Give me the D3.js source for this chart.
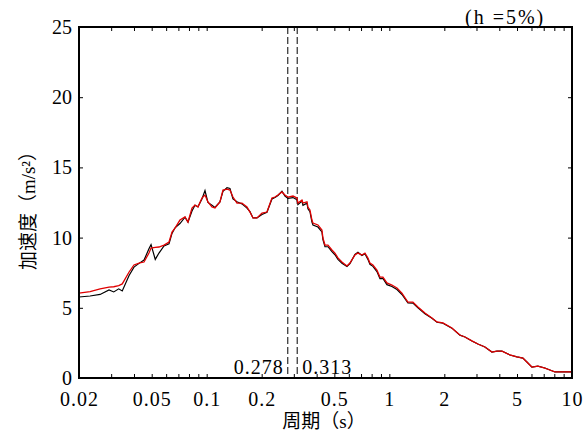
<!DOCTYPE html>
<html>
<head>
<meta charset="utf-8">
<script src="https://cdn.jsdelivr.net/npm/d3@7"></script>
<style>
  body { margin: 0; background: #fff; }
  text { font-family: "Liberation Serif", "Noto Sans CJK SC", serif; fill: #000; }
</style>
</head>
<body>
<div id="chart"></div>
<script>
// periods (s)
const periods = [0.0200, 0.0230, 0.0261, 0.0292, 0.0310, 0.0330, 0.0345, 0.0376, 0.0400, 0.0430,
  0.0454, 0.0483, 0.0496, 0.0523, 0.0548, 0.0584, 0.0622, 0.0646, 0.0671, 0.0714,
  0.0761, 0.0790, 0.0831, 0.0863, 0.0896, 0.0942, 0.0979, 0.1016, 0.1069, 0.1110,
  0.1182, 0.1228, 0.1292, 0.1341, 0.1393, 0.1465, 0.1560, 0.1662, 0.1726, 0.1793,
  0.1885, 0.2008, 0.2138, 0.2277, 0.2365, 0.2456, 0.2583, 0.2682, 0.2786, 0.2968,
  0.3121, 0.3160, 0.3324, 0.3366, 0.3540, 0.3584, 0.3676, 0.3770, 0.3818, 0.4066,
  0.4276, 0.4330, 0.4442, 0.4614, 0.4850, 0.5038, 0.5232, 0.5502, 0.5862, 0.6086,
  0.6482, 0.6732, 0.7080, 0.7352, 0.7634, 0.7830, 0.8132, 0.8552, 0.8882, 0.9224,
  0.9702, 1.033, 1.101, 1.172, 1.264, 1.346, 1.434, 1.566, 1.711, 1.822,
  1.965, 2.200, 2.434, 2.594, 2.832, 3.054, 3.336, 3.644, 3.882, 4.134,
  4.572, 4.994, 5.386, 5.664, 6.034, 6.506, 7.106, 7.568, 8.062, 8.586, 10.0];

// red spectrum (m/s2)
const accelRed = [6.05, 6.15, 6.34, 6.48, 6.50, 6.58, 6.70, 7.55, 8.05, 8.20,
  8.26, 8.90, 9.26, 9.30, 9.33, 9.47, 9.69, 10.40, 10.68, 11.25,
  11.47, 11.11, 12.11, 12.32, 12.18, 12.82, 13.03, 12.54, 12.18, 12.11,
  12.54, 13.39, 13.45, 13.39, 12.89, 12.46, 12.46, 12.18, 11.82, 11.40,
  11.40, 11.75, 11.82, 12.82, 12.89, 13.03, 13.25, 13.03, 12.89, 12.96,
  12.82, 12.46, 12.68, 12.46, 12.54, 12.18, 11.97, 11.25, 11.04, 10.90,
  10.54, 9.97, 9.47, 9.47, 9.12, 8.90, 8.55, 8.26, 7.98, 8.19,
  8.76, 8.90, 8.76, 8.90, 8.55, 8.19, 8.05, 7.69, 7.19, 7.19,
  6.77, 6.62, 6.41, 6.05, 5.41, 5.41, 5.06, 4.63, 4.27, 3.99,
  3.92, 3.56, 3.06, 2.92, 2.64, 2.42, 2.21, 1.85, 1.92, 1.92,
  1.64, 1.50, 1.42, 1.14, 0.78, 0.85, 0.71, 0.57, 0.43, 0.43, 0.43];

// black spectrum (m/s2)
const accelBlack = [5.77, 5.84, 5.95, 6.27, 6.13, 6.35, 6.20, 7.30, 7.90, 8.20,
  8.40, 9.20, 9.50, 8.45, 8.90, 9.40, 9.55, 10.30, 10.70, 11.00,
  11.45, 11.10, 11.90, 12.30, 12.20, 12.75, 13.35, 12.50, 12.30, 12.15,
  12.54, 13.30, 13.55, 13.50, 12.75, 12.55, 12.40, 12.10, 11.85, 11.40,
  11.40, 11.65, 11.80, 12.75, 12.85, 13.00, 13.30, 12.95, 12.80, 12.85,
  12.70, 12.35, 12.60, 12.30, 12.45, 12.05, 11.85, 11.10, 10.90, 10.75,
  10.40, 9.85, 9.35, 9.35, 9.00, 8.78, 8.45, 8.18, 7.95, 8.15,
  8.80, 8.95, 8.72, 8.85, 8.45, 8.10, 7.95, 7.58, 7.08, 7.10,
  6.65, 6.52, 6.30, 5.95, 5.35, 5.33, 5.00, 4.58, 4.25, 3.97,
  3.90, 3.55, 3.05, 2.92, 2.64, 2.42, 2.21, 1.85, 1.92, 1.92,
  1.64, 1.50, 1.42, 1.14, 0.78, 0.85, 0.71, 0.57, 0.43, 0.43, 0.43];

const markPeriods = [0.278, 0.313];
const xLabels = [0.02, 0.05, 0.1, 0.2, 0.5, 1, 2, 5, 10];
const yTicks = [0, 5, 10, 15, 20, 25];

const width = 588, height = 435;
const margin = { top: 27, right: 16, bottom: 57, left: 79 };

const svg = d3.select("#chart").append("svg").attr("width", width).attr("height", height);

const x = d3.scaleLog().domain([0.02, 10]).range([margin.left, width - margin.right]);
const y = d3.scaleLinear().domain([0, 25]).range([height - margin.bottom, margin.top]);

// all log ticks 0.02 .. 10
let xMinor = [];
[0.01, 0.1, 1].forEach(b => { for (let i = 1; i <= 9; i++) { const v = +(b * i).toPrecision(3); if (v >= 0.02 && v <= 10) xMinor.push(v); } });
xMinor.push(10);

const fmt = d => d < 1 ? String(d) : String(d);

svg.append("g")
    .attr("transform", `translate(0,${height - margin.bottom})`)
    .call(d3.axisBottom(x).tickValues(xMinor).tickSize(-4).tickPadding(14)
        .tickFormat(d => xLabels.includes(d) ? fmt(d) : ""))
    .call(g => g.select(".domain").remove())
    .call(g => g.selectAll("text").attr("font-size", 20).attr("letter-spacing", 1).attr("font-family", "Liberation Serif"));

svg.append("g")
    .attr("transform", `translate(0,${margin.top})`)
    .call(d3.axisTop(x).tickValues(xMinor).tickSize(-4).tickFormat(""))
    .call(g => g.select(".domain").remove());

svg.append("g")
    .attr("transform", `translate(${margin.left},0)`)
    .call(d3.axisLeft(y).tickValues(yTicks).tickSize(-4).tickPadding(7))
    .call(g => g.select(".domain").remove())
    .call(g => g.selectAll("text").attr("font-size", 20).attr("font-family", "Liberation Serif"));

svg.append("g")
    .attr("transform", `translate(${width - margin.right},0)`)
    .call(d3.axisRight(y).tickValues(yTicks).tickSize(-4).tickFormat(""))
    .call(g => g.select(".domain").remove());

svg.selectAll(".tick line").attr("stroke", "#000").attr("stroke-width", 1);

// dashed period markers
svg.selectAll(".mark")
    .data(markPeriods)
    .enter()
    .append("line")
    .attr("x1", d => x(d)).attr("x2", d => x(d))
    .attr("y1", margin.top).attr("y2", height - margin.bottom)
    .attr("stroke", "#000").attr("stroke-width", 1)
    .attr("stroke-dasharray", "7,3");

svg.append("text")
    .attr("x", x(markPeriods[0]) - 4).attr("y", height - margin.bottom - 4)
    .attr("text-anchor", "end").attr("font-size", 20).attr("letter-spacing", 1)
    .text(markPeriods[0]);
svg.append("text")
    .attr("x", x(markPeriods[1]) + 5).attr("y", height - margin.bottom - 4)
    .attr("font-size", 20).attr("letter-spacing", 1)
    .text(markPeriods[1]);

const line = d3.line().x(d => x(d[0])).y(d => y(d[1]));

svg.append("path")
    .datum(d3.zip(periods, accelBlack))
    .attr("d", line)
    .attr("fill", "none").attr("stroke", "#000").attr("stroke-width", 1.2);

svg.append("path")
    .datum(d3.zip(periods, accelRed))
    .attr("d", line)
    .attr("fill", "none").attr("stroke", "#e00000").attr("stroke-width", 1.3);

// frame
svg.append("rect")
    .attr("x", margin.left).attr("y", margin.top)
    .attr("width", width - margin.left - margin.right)
    .attr("height", height - margin.top - margin.bottom)
    .attr("fill", "none").attr("stroke", "#000").attr("stroke-width", 2);

svg.append("text")
    .attr("x", 324).attr("y", 428)
    .attr("text-anchor", "middle").attr("font-size", 19)
    .text("周期（s）");

svg.append("text")
    .attr("transform", "translate(35,206) rotate(-90)")
    .attr("text-anchor", "middle").attr("font-size", 19)
    .text("加速度（m/s²）");

svg.append("text")
    .attr("x", 465).attr("y", 24)
    .attr("font-size", 20).attr("letter-spacing", 2)
    .text("(h =5%)");
</script>
</body>
</html>
